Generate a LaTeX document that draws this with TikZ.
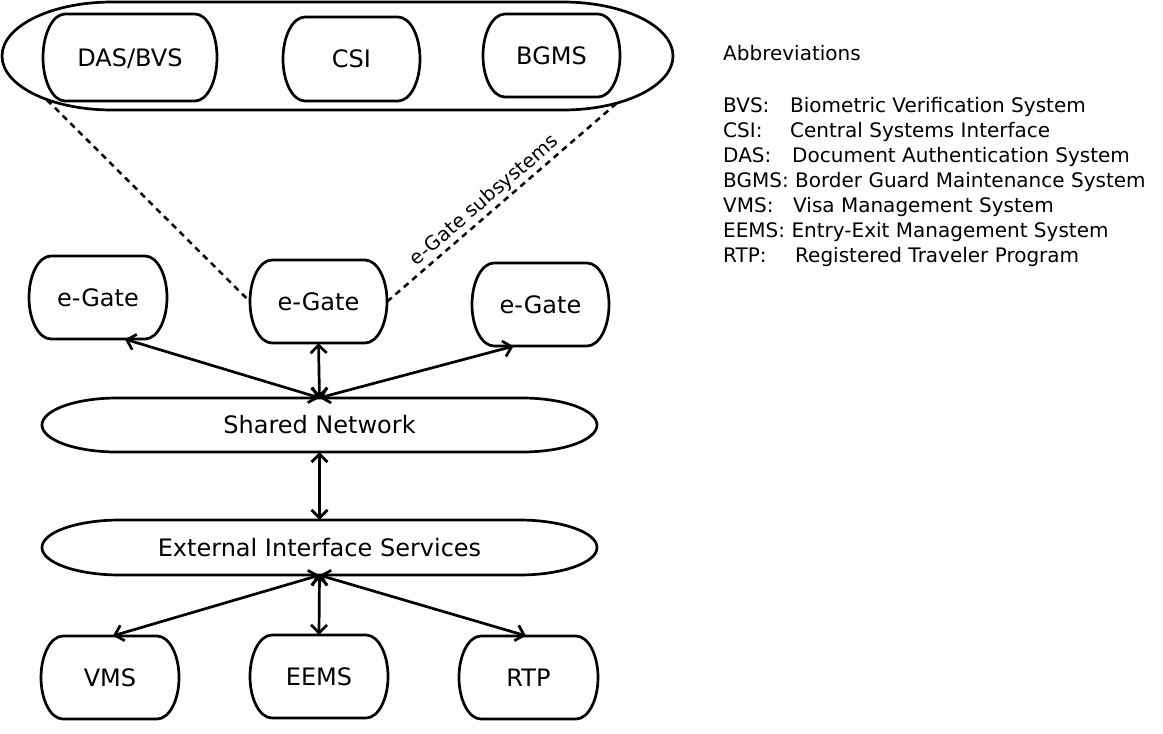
\documentclass[tikz,border=0pt]{standalone}
\usepackage{fontspec}
\setmainfont{DejaVu Sans}
\usetikzlibrary{arrows.meta,calc}
% name, x1, y1, x2, y2, end width, text
\newcommand{\capshape}[7]{%
  \pgfmathsetmacro{\cpX}{(#2+#4)/2}%
  \pgfmathsetmacro{\cpY}{(#3+#5)/2}%
  \pgfmathsetmacro{\cpW}{#4-#2}%
  \pgfmathsetmacro{\cpH}{#5-#3}%
  \pgfmathsetmacro{\cpR}{(#5-#3)/2}%
  \node[lbl, minimum width=\cpW pt, minimum height=\cpH pt] (#1) at (\cpX,-\cpY) {#7};
  \draw[shp] (#2+#6,-#3) -- (#4-#6,-#3)
    arc[start angle=90, end angle=-90, x radius=#6pt, y radius=\cpR pt]
    -- (#2+#6,-#5)
    arc[start angle=270, end angle=90, x radius=#6pt, y radius=\cpR pt]
    -- cycle;
}
\begin{document}
\begin{tikzpicture}[x=1pt,y=1pt,
  shp/.style={line width=2.7pt, line join=round},
  lbl/.style={inner sep=0pt, font=\fontsize{24}{29}\selectfont, text height=17.5pt, text depth=0pt},
  arr/.style={line width=2.7pt, {Straight Barb[length=8pt,width=16pt]}-{Straight Barb[length=8pt,width=16pt]}},
  dsh/.style={line width=2.5pt, dash pattern=on 6pt off 5pt},
  abbr/.style={inner sep=0pt, anchor=base west, font=\fontsize{20}{25}\selectfont}]
\useasboundingbox (0,0) rectangle (1163,-734);

% group of e-Gate subsystems
\capshape{grp}{2}{2}{673}{110}{110}{}
\capshape{das}{43}{14}{217}{101}{22}{DAS/BVS}
\capshape{csi}{283}{17}{420}{101}{22}{CSI}
\capshape{bgms}{483}{14}{620}{97}{22}{BGMS}

% e-Gates
\capshape{eg1}{29}{256}{167}{339}{22}{e-Gate}
\capshape{eg2}{250}{260}{387}{343}{22}{e-Gate}
\capshape{eg3}{472}{263}{609}{346}{22}{e-Gate}

% networks
\capshape{sn}{42}{398}{597}{452}{75}{Shared Network}
\capshape{eis}{42}{520}{597}{575}{78}{External Interface Services}

% external systems
\capshape{vms}{41}{636}{179}{719}{22}{VMS}
\capshape{eems}{250}{635}{388}{718}{22}{EEMS}
\capshape{rtp}{459}{636}{598}{719}{22}{RTP}

% dashed lines to group
\coordinate (dl) at (47,-100);
\coordinate (dr) at (617,-103);
\draw[dsh] (dl) -- (eg2.west);
\draw[dsh] (eg2.east) -- node[sloped, above, pos=0.46, inner sep=2pt, font=\fontsize{19.5}{22}\selectfont] (sublbl) {e-Gate subsystems} (dr);

% connectors
\draw[arr] ($(eg1.south)+(27,0)$) -- (sn.north);
\draw[arr] (eg2.south) -- (sn.north);
\draw[arr] ($(eg3.south)+(-27,0)$) -- (sn.north);
\draw[arr] (sn.south) -- (eis.north);
\draw[arr] (eis.south) -- ($(vms.north)+(3,0)$);
\draw[arr] (eis.south) -- (eems.north);
\draw[arr] (eis.south) -- ($(rtp.north)+(-2.5,0)$);

% abbreviations
\node[abbr] (ab0) at (723,-60) {Abbreviations};
\node[abbr] (ab1) at (723,-112) {\makebox[67pt][l]{BVS:}Biometric Verification System};
\node[abbr] (ab2) at (723,-137) {\makebox[67pt][l]{CSI:}Central Systems Interface};
\node[abbr] (ab3) at (723,-162) {\makebox[69pt][l]{DAS:}Document Authentication System};
\node[abbr] (ab4) at (723,-187) {BGMS: Border Guard Maintenance System};
\node[abbr] (ab5) at (723,-212) {\makebox[70pt][l]{VMS:}Visa Management System};
\node[abbr] (ab6) at (723,-237) {EEMS: Entry-Exit Management System};
\node[abbr] (ab7) at (723,-262) {\makebox[72pt][l]{RTP:}Registered Traveler Program};
\end{tikzpicture}
\end{document}
